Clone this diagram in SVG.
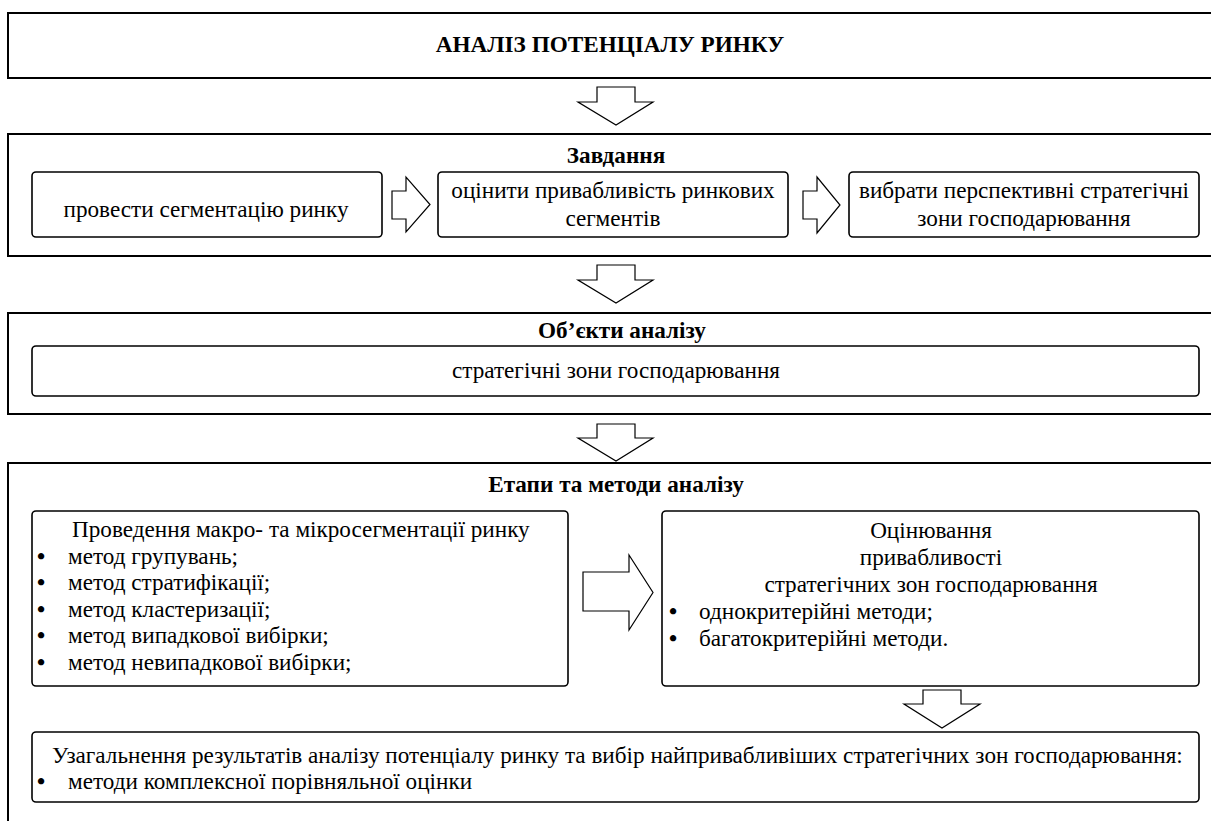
<svg xmlns="http://www.w3.org/2000/svg" width="1211" height="821" viewBox="0 0 1211 821" font-family="'Liberation Serif', 'Times New Roman', serif" font-size="23.2">
<style>
.frame{fill:#fff;stroke:#000;stroke-width:2}
.sub{fill:#fff;stroke:#000;stroke-width:1.6}
.arr{fill:#fff;stroke:#000;stroke-width:1.2;stroke-linejoin:miter}
text{font-family:'Liberation Serif','Times New Roman',serif;font-size:23.2px;fill:#000}
.b{font-weight:bold}
.m{text-anchor:middle}
.dot{font-weight:bold}
</style>
<rect width="1211" height="821" fill="#fff"/>
<g id="title">
<rect class="frame" x="8" y="13" width="1206" height="65"/>
<text class="b m" x="610" y="52">АНАЛІЗ ПОТЕНЦІАЛУ РИНКУ</text>
</g>
<g id="tasks">
<rect class="frame" x="8" y="134" width="1206" height="122"/>
<text class="b m" x="616" y="163">Завдання</text>
</g>
<g id="task1">
<rect class="sub" x="32" y="172" width="350" height="65" rx="4"/>
<text class="m" x="206" y="217">провести сегментацію ринку</text>
</g>
<g id="task2">
<rect class="sub" x="438" y="172" width="350" height="65" rx="4"/>
<text class="m" x="613" y="198">оцінити привабливість ринкових</text>
<text class="m" x="613" y="226">сегментів</text>
</g>
<g id="task3">
<rect class="sub" x="849" y="172" width="350" height="65" rx="4"/>
<text class="m" x="1024" y="198">вибрати перспективні стратегічні</text>
<text class="m" x="1024" y="226">зони господарювання</text>
</g>
<g id="objects">
<rect class="frame" x="8" y="313" width="1206" height="101"/>
<text class="b m" x="622" y="338">Об’єкти аналізу</text>
</g>
<g id="szg">
<rect class="sub" x="32" y="346" width="1167" height="50" rx="4"/>
<text class="m" x="616" y="378">стратегічні зони господарювання</text>
</g>
<g id="stages">
<rect class="frame" x="8" y="463" width="1206" height="370"/>
<text class="b m" x="616" y="492">Етапи та методи аналізу</text>
</g>
<g id="segmentation">
<rect class="sub" x="32" y="511" width="536" height="175" rx="4"/>
<text x="72" y="537">Проведення макро- та мікросегментації ринку</text>
<text class="dot" x="37" y="564">•</text><text x="68" y="564">метод групувань;</text>
<text class="dot" x="37" y="590">•</text><text x="68" y="590">метод стратифікації;</text>
<text class="dot" x="37" y="617">•</text><text x="68" y="617">метод кластеризації;</text>
<text class="dot" x="37" y="643">•</text><text x="68" y="643">метод випадкової вибірки;</text>
<text class="dot" x="37" y="670">•</text><text x="68" y="670">метод невипадкової вибірки;</text>
</g>
<g id="evaluation">
<rect class="sub" x="662" y="511" width="537" height="175" rx="4"/>
<text class="m" x="931" y="538">Оцінювання</text>
<text class="m" x="931" y="565">привабливості</text>
<text class="m" x="931" y="592">стратегічних зон господарювання</text>
<text class="dot" x="669" y="619">•</text><text x="699" y="619">однокритерійні методи;</text>
<text class="dot" x="669" y="646">•</text><text x="699" y="646">багатокритерійні методи.</text>
</g>
<g id="summary">
<rect class="sub" x="32" y="732" width="1167" height="70" rx="4"/>
<text x="52" y="763">Узагальнення результатів аналізу потенціалу ринку та вибір найпривабливіших стратегічних зон господарювання:</text>
<text class="dot" x="37" y="789">•</text><text x="68" y="789">методи комплексної порівняльної оцінки</text>
</g>
<g id="connectors">
<path class="arr" d="M597,87 H635 V102 H653 L616,125 L578,102 H597 Z"/>
<path class="arr" d="M597,265 H635 V280 H653 L616,303 L578,280 H597 Z"/>
<path class="arr" d="M597,424 H635 V438 H653 L616,461 L578,438 H597 Z"/>
<path class="arr" d="M923,690 H961 V704 H980 L942,728 L904,704 H923 Z"/>
<path class="arr" d="M392,191 H406 V177 L430,204.5 L406,232 V219 H392 Z"/>
<path class="arr" d="M803,191 H817 V177 L840,205 L817,233 V219 H803 Z"/>
<path class="arr" d="M583,572 H629 V555 L653,592.5 L629,630 V611 H583 Z"/>
</g>
</svg>
